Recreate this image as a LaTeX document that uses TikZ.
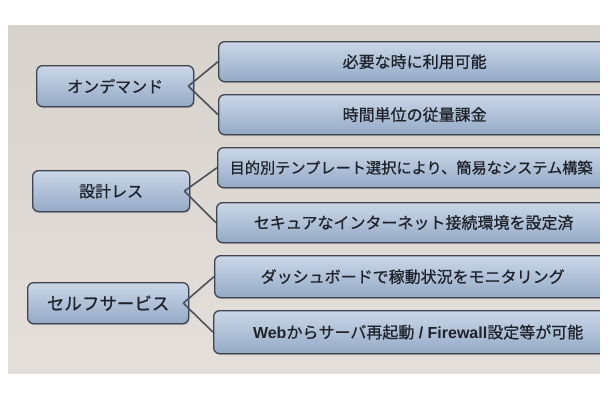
\documentclass[tikz,border=0pt]{standalone}
\usepackage{fontspec}
\newfontfamily\jp[FakeBold=0.7]{Noto Sans CJK JP}
\newfontfamily\lat{Liberation Sans}
\usetikzlibrary{shadows}
\definecolor{slidetop}{HTML}{D8D2CD}
\definecolor{slidebot}{HTML}{E4DFDA}
\definecolor{boxtop}{HTML}{CBD7E8}
\definecolor{boxbot}{HTML}{94AAC6}
\definecolor{boxline}{HTML}{3E4550}
\definecolor{conn}{HTML}{4A525C}
\definecolor{txt}{HTML}{1E232B}
\tikzset{
  x=1pt, y=-1pt,
  box/.style={draw=boxline, line width=1.3pt, rounded corners=6pt,
    top color=boxtop, bottom color=boxbot, anchor=north west, inner sep=0pt,
    text=txt, font=\jp\fontsize{16}{19}\selectfont,
    drop shadow={opacity=0.35, shadow xshift=1pt, shadow yshift=-1.5pt}},
  connector/.style={draw=conn, line width=1.6pt}
}
\begin{document}
\begin{tikzpicture}
\useasboundingbox (0,0) rectangle (610,400);
\fill[white] (0,0) rectangle (610,400);
\shade[top color=slidetop, bottom color=slidebot] (8,25) rectangle (600,373);

% left boxes
\node[box, minimum width=157pt, minimum height=41pt] (L1) at (36,65) {オンデマンド};
\node[box, minimum width=157pt, minimum height=41pt] (L2) at (32,170) {設計レス};
\node[box, minimum width=161pt, minimum height=41pt, font=\jp\fontsize{17.5}{20}\selectfont] (L3) at (27,282) {セルフサービス};

% right boxes
\node[box, minimum width=392pt, minimum height=40pt] (R1) at (218,41) {必要な時に利用可能};
\node[box, minimum width=392pt, minimum height=40pt] (R2) at (218,94) {時間単位の従量課金};
\node[box, minimum width=393pt, minimum height=40pt, font=\jp\fontsize{15.2}{18}\selectfont] (R3) at (217,147) {\hspace*{-6pt}目的別テンプレート選択により、簡易なシステム構築};
\node[box, minimum width=394pt, minimum height=40pt] (R4) at (216,202) {セキュアなインターネット接続環境を設定済};
\node[box, minimum width=396pt, minimum height=42pt] (R5) at (214,255) {ダッシュボードで稼動状況をモニタリング};
\node[box, minimum width=397pt, minimum height=43pt] (R6) at (213,310) {\hspace*{12pt}{\lat\bfseries Web}からサーバ再起動{\lat\bfseries\ / Firewall}設定等が可能};

% connector origins
\coordinate (p1) at ([xshift=-6pt]L1.east);
\coordinate (p2) at ([xshift=-6pt]L2.east);
\coordinate (p3) at ([xshift=-6pt]L3.east);

\draw[connector] (p1) -- (R1.west);
\draw[connector] (p1) -- (R2.west);
\draw[connector] (p2) -- (R3.west);
\draw[connector] (p2) -- (R4.west);
\draw[connector] (p3) -- (R5.west);
\draw[connector] (p3) -- (R6.west);

% cut off at slide edge
\fill[white] (600,0) rectangle (610,400);
\end{tikzpicture}
\end{document}
